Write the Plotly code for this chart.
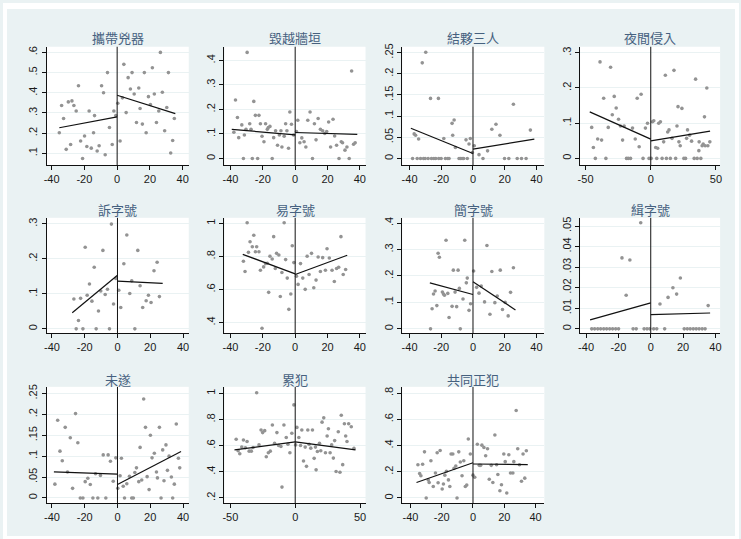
import plotly.graph_objects as go

# ---------------- data: running variable (x) vs. share (y) per sentencing factor ----------------
titles = ["攜帶兇器", "毀越牆垣", "結夥三人", "夜間侵入",
          "訴字號", "易字號", "簡字號", "緝字號",
          "未遂", "累犯", "共同正犯"]

weapon_x = [-35.3, -32.7, -33.9, -31.1, -29.8, -28.4, -27.6, -26.4, -25.0, -23.6, -22.3, -21.1, -19.9, -18.5,
            -17.1, -15.8, -14.4, -13.8, -12.2, -11.0, -9.5, -8.3, -7.3, -5.9, -4.7, -3.0, -2.0, -0.8,
            0.4, 1.8, 3.2, 4.1, 5.5, 6.7, 8.1, 9.1, 10.4, 11.8, 13.2, 14.0, 15.4, 16.6, 17.7, 19.1,
            20.3, 21.5, 22.7, 24.0, 25.4, 26.4, 27.6, 29.0, 30.3, 31.3, 32.7, 33.9, 34.9]
weapon_y = [0.202, 0.273, 0.337, 0.12, 0.355, 0.144, 0.36, 0.337, 0.31, 0.435, 0.161, 0.075, 0.186, 0.134,
            0.31, 0.126, 0.202, 0.287, 0.112, 0.138, 0.435, 0.40, 0.093, 0.50, 0.228, 0.144, 0.31, 0.287,
            0.348, 0.161, 0.375, 0.541, 0.302, 0.475, 0.419, 0.50, 0.394, 0.253, 0.424, 0.322, 0.245, 0.50,
            0.202, 0.381, 0.342, 0.524, 0.394, 0.253, 0.31, 0.60, 0.403, 0.212, 0.327, 0.50, 0.102, 0.164, 0.273]
weapon_fit_left_x, weapon_fit_left_y = [-35.3, 0.0], [0.227, 0.281]
weapon_fit_right_x, weapon_fit_right_y = [0.0, 35.5], [0.388, 0.297]

wall_x = [-37.9, -36.9, -35.7, -34.9, -33.0, -32.0, -31.4, -30.4, -29.7, -28.1, -27.3, -26.5, -25.6, -24.6,
          -23.2, -22.4, -21.5, -20.5, -19.3, -18.3, -17.2, -16.6, -15.6, -14.2, -13.3, -12.1, -10.9, -9.8,
          -8.8, -8.2, -6.8, -5.9, -5.1, -4.1, -3.3, -2.3, -1.0,
          0.8, 1.6, 2.9, 4.1, 5.5, 6.6, 7.8, 9.2, 10.7, 11.9, 12.9, 14.2, 15.6, 17.0, 18.3, 19.5, 20.7,
          21.9, 23.4, 24.4, 25.6, 27.1, 28.5, 29.3, 30.8, 32.0, 33.4, 34.9, 36.1, 37.1]
wall_y = [0.107, 0.239, 0.167, 0.085, 0.137, 0.0, 0.096, 0.119, 0.433, 0.142, 0.119, 0.0, 0.233, 0.176,
          0.0, 0.176, 0.142, 0.091, 0.068, 0.142, 0.119, 0.126, 0.131, 0.0, 0.085, 0.113, 0.054, 0.096,
          0.113, 0.047, 0.091, 0.142, 0.113, 0.042, 0.19, 0.14, 0.096,
          0.11, 0.156, 0.064, 0.084, 0.068, 0.047, 0.156, 0.19, 0.0, 0.142, 0.076, 0.163, 0.119, 0.113,
          0.102, 0.11, 0.149, 0.047, 0.16, 0.092, 0.054, 0.0, 0.068, 0.064, 0.034, 0.047, 0.0, 0.357,
          0.058, 0.064]
wall_fit_left_x, wall_fit_left_y = [-39.2, 0.0], [0.119, 0.096]
wall_fit_right_x, wall_fit_right_y = [0.0, 38.4], [0.106, 0.098]

gang_x = [-38.1, -37.1, -36.2, -35.2, -34.3, -33.1, -32.0, -31.2, -30.2, -29.8, -28.3, -26.8, -26.2, -24.7,
          -23.5, -21.8, -21.6, -20.1, -18.4, -17.4, -15.9, -15.1, -13.2, -12.8, -11.9, -11.1, -8.8, -8.0,
          -6.9, -5.9, -4.4, -3.6, -2.5, -1.7, -0.4,
          0.8, 3.8, 6.3, 9.2, 11.9, 14.5, 17.0, 19.9, 22.6, 25.5, 27.9, 30.6, 33.5, 36.2]
gang_y = [0.0, 0.058, 0.055, 0.0, 0.046, 0.0, 0.226, 0.0, 0.0, 0.251, 0.0, 0.142, 0.0, 0.0,
          0.0, 0.142, 0.0, 0.0, 0.047, 0.0, 0.0, 0.0, 0.083, 0.055, 0.091, 0.026, 0.0, 0.0,
          0.0, 0.0, 0.044, 0.0, 0.034, 0.047, 0.014,
          0.030, 0.009, 0.0, 0.018, 0.069, 0.081, 0.055, 0.0, 0.0, 0.128, 0.0, 0.0, 0.0, 0.067]
gang_fit_left_x, gang_fit_left_y = [-39.2, 0.0], [0.0715, 0.0118]
gang_fit_right_x, gang_fit_right_y = [0.0, 38.7], [0.022, 0.0456]

night_x = [-45.3, -44.0, -42.5, -40.7, -38.9, -37.7, -36.1, -34.4, -32.6, -30.8, -29.5, -28.0, -26.5, -24.7,
           -23.2, -21.6, -20.4, -18.6, -17.3, -15.5, -14.0, -11.9, -10.4, -8.9, -7.4, -5.9, -4.1, -2.5, -1.3,
           0.3, 1.3, 2.3, 3.8, 4.6, 5.3, 6.1, 7.4, 8.7, 9.9, 11.2, 12.0, 13.0, 14.0, 15.0, 16.3, 17.8,
           19.1, 20.1, 20.9, 21.6, 22.6, 23.9, 25.4, 26.7, 27.5, 28.2, 29.8, 31.3, 33.3, 34.4, 35.6, 36.9,
           37.1, 38.4, 39.4, 40.2, 41.2, 41.7, 43.0, 43.8, 45.3]
night_y = [0.088, 0.031, 0.0, 0.055, 0.274, 0.052, 0.171, 0.0, 0.088, 0.259, 0.124, 0.176, 0.143, 0.111,
           0.092, 0.052, 0.092, 0.0, 0.0, 0.0, 0.086, 0.055, 0.171, 0.033, 0.182, 0.0, 0.086, 0.1, 0.0,
           0.0, 0.104, 0.107, 0.031, 0.0, 0.029, 0.1, 0.104, 0.0, 0.047, 0.236, 0.0, 0.075, 0.081, 0.0,
           0.057, 0.25, 0.0, 0.092, 0.147, 0.047, 0.036, 0.142, 0.0, 0.0, 0.057, 0.081, 0.066, 0.049, 0.0,
           0.225, 0.0, 0.022, 0.047, 0.0, 0.036, 0.041, 0.118, 0.036, 0.2, 0.036, 0.047]
night_fit_left_x, night_fit_left_y = [-46.8, 0.0], [0.132, 0.0547]
night_fit_right_x, night_fit_right_y = [0.0, 45.5], [0.050, 0.0774]

su_x = [-26.6, -25.2, -23.8, -22.5, -21.1, -19.7, -18.5, -17.1, -15.6, -14.2, -13.0, -11.6, -10.2, -8.9,
        -7.5, -6.1, -4.9, -3.7, -2.4, -1.0,
        0.8, 2.0, 3.9, 5.7, 7.5, 8.7, 10.6, 12.4, 13.8, 15.4, 17.5, 18.9, 20.5, 22.3, 24.2, 25.6]
su_y = [0.085, 0.0, 0.024, 0.087, 0.0, 0.233, 0.096, 0.128, 0.079, 0.176, 0.0, 0.051, 0.108, 0.224,
        0.098, 0.113, 0.0, 0.299, 0.071, 0.144,
        0.11, 0.061, 0.186, 0.268, 0.101, 0.137, 0.0, 0.224, 0.123, 0.061, 0.08, 0.096, 0.075, 0.166,
        0.19, 0.092]
su_fit_left_x, su_fit_left_y = [-27.6, 0.0], [0.046, 0.153]
su_fit_right_x, su_fit_right_y = [0.0, 27.6], [0.136, 0.130]

yi_x = [-32.0, -31.0, -29.7, -28.9, -27.9, -26.5, -25.6, -24.6, -23.8, -22.4, -21.5, -20.5, -19.5, -18.3,
        -17.2, -16.4, -15.6, -14.2, -13.3, -12.3, -11.5, -10.1, -9.2, -8.2, -6.8, -5.9, -4.9, -3.9, -2.7,
        -1.8, -0.8,
        0.8, 1.8, 3.3, 4.7, 6.2, 7.4, 8.6, 10.1, 11.5, 12.9, 14.2, 15.6, 17.0, 18.7, 19.7, 21.1, 22.8,
        24.2, 25.6, 26.9, 28.3, 29.7, 31.2]
yi_y = [0.771, 0.709, 1.004, 0.825, 0.889, 0.859, 0.928, 0.829, 0.859, 0.829, 0.717, 0.366, 0.737, 0.757,
        0.759, 0.583, 0.801, 0.785, 0.92, 0.727, 0.819, 0.809, 0.558, 0.703, 1.004, 0.781, 0.669, 0.48,
        0.573, 0.865, 0.763,
        0.681, 0.631, 0.757, 0.669, 0.601, 0.801, 0.691, 0.819, 0.611, 0.657, 0.797, 0.709, 0.793, 0.717,
        0.847, 0.791, 0.717, 0.649, 0.727, 0.735, 0.92, 0.691, 0.721]
yi_fit_left_x, yi_fit_left_y = [-32.4, 0.0], [0.813, 0.695]
yi_fit_right_x, yi_fit_right_y = [0.0, 32.2], [0.691, 0.807]

jian_x = [-26.8, -25.8, -24.9, -23.9, -22.8, -22.0, -21.2, -19.3, -18.6, -18.0, -17.0, -15.9, -15.1, -13.2,
          -12.4, -11.3, -10.3, -9.4, -8.6, -8.0, -6.3, -5.2, -4.2, -3.6, -2.5, -1.5,
          0.4, 2.3, 3.8, 5.2, 7.3, 8.8, 10.7, 11.9, 13.8, 15.3, 17.2, 18.6, 20.3, 22.2, 23.7, 25.5]
jian_y = [0.0, 0.076, 0.132, 0.143, 0.088, 0.286, 0.271, 0.139, 0.132, 0.127, 0.335, 0.134, 0.043, 0.085,
          0.222, 0.139, 0.084, 0.222, 0.153, 0.0, 0.113, 0.335, 0.174, 0.192, 0.07, 0.095,
          0.219, 0.157, 0.135, 0.162, 0.102, 0.315, 0.055, 0.217, 0.099, 0.124, 0.222, 0.073, 0.1, 0.049,
          0.138, 0.231]
jian_fit_left_x, jian_fit_left_y = [-27.2, 0.0], [0.174, 0.130]
jian_fit_right_x, jian_fit_right_y = [0.0, 26.8], [0.178, 0.0715]

ji_x = [-36.5, -34.7, -32.8, -31.0, -29.1, -27.3, -25.4, -23.6, -21.7, -19.9, -17.8, -15.2, -12.9, -10.9,
        -9.0, -6.2, -4.1, -2.3, -0.6,
        1.8, 3.7, 5.7, 8.6, 10.7, 13.7, 16.0, 18.3, 20.7, 22.6, 24.4, 26.3, 28.1, 29.9, 31.8, 33.6, 35.5]
ji_y = [0.0, 0.0, 0.0, 0.0, 0.0, 0.0, 0.0, 0.0, 0.0, 0.0, 0.0345, 0.0163, 0.0335, 0.0,
        0.0, 0.0516, 0.0, 0.0, 0.0,
        0.0, 0.0, 0.0121, 0.0, 0.0153, 0.020, 0.0169, 0.0247, 0.0, 0.0, 0.0, 0.0, 0.0, 0.0, 0.0, 0.0, 0.0113]
ji_fit_left_x, ji_fit_left_y = [-37.5, 0.0], [0.00435, 0.0126]
ji_fit_right_x, ji_fit_right_y = [0.0, 36.7], [0.0069, 0.0077]

attempt_x = [-38.2, -36.5, -35.1, -33.7, -31.9, -30.5, -28.8, -27.4, -25.6, -24.2, -22.7, -21.1, -19.7, -18.1,
             -16.6, -15.0, -13.4, -12.0, -10.4, -8.7, -7.1, -5.7, -4.3, -2.6, -1.0,
             0.2, 1.6, 2.4, 3.5, 4.3, 5.7, 7.3, 8.7, 9.7, 10.6, 11.6, 13.0, 13.8, 14.8, 16.0, 17.1, 18.1,
             19.3, 20.1, 21.1, 22.5, 23.8, 24.4, 25.6, 26.6, 27.6, 28.4, 29.6, 30.5, 31.5, 32.9, 33.7,
             34.7, 35.9, 37.2, 38.0]
attempt_y = [0.033, 0.186, 0.112, 0.089, 0.169, 0.062, 0.144, 0.023, 0.202, 0.132, 0.0, 0.0, 0.039, 0.047,
             0.032, 0.0, 0.058, 0.0, 0.054, 0.103, 0.0, 0.103, 0.088, 0.04, 0.096,
             0.023, 0.053, 0.095, 0.028, 0.0, 0.034, 0.052, 0.0, 0.0, 0.061, 0.072, 0.039, 0.121, 0.043,
             0.237, 0.169, 0.051, 0.02, 0.15, 0.096, 0.107, 0.062, 0.048, 0.169, 0.0, 0.115, 0.041, 0.127,
             0.066, 0.1, 0.05, 0.0, 0.033, 0.177, 0.095, 0.072]
attempt_fit_left_x, attempt_fit_left_y = [-38.8, 0.0], [0.0623, 0.0568]
attempt_fit_right_x, attempt_fit_right_y = [0.0, 38.8], [0.0323, 0.111]

repeat_x = [-45.5, -44.0, -42.7, -41.2, -39.9, -38.4, -37.1, -35.5, -33.8, -32.5, -29.7, -27.9, -26.3, -25.1,
            -23.5, -22.3, -20.7, -19.2, -17.6, -15.9, -14.1, -12.8, -11.0, -10.2, -8.7, -6.9, -5.6, -4.1,
            -2.6, -1.0,
            0.3, 1.3, 2.8, 4.1, 5.1, 6.4, 7.7, 8.7, 9.7, 10.7, 12.0, 13.3, 14.6, 15.6, 16.1, 17.1, 18.7,
            19.7, 20.7, 22.0, 23.3, 24.6, 25.6, 26.9, 28.1, 29.4, 30.4, 31.5, 33.2, 34.5, 35.5, 36.6, 37.9,
            38.9, 39.9, 41.2, 43.2, 45.3]
repeat_y = [0.649, 0.561, 0.538, 0.589, 0.644, 0.584, 0.632, 0.558, 0.558, 0.586, 1.005, 0.606, 0.72, 0.70,
            0.715, 0.515, 0.546, 0.558, 0.758, 0.619, 0.70, 0.601, 0.594, 0.283, 0.758, 0.662, 0.611, 0.546,
            0.695, 0.912,
            0.606, 0.74, 0.662, 0.601, 0.72, 0.483, 0.589, 0.442, 0.72, 0.611, 0.581, 0.72, 0.503, 0.589,
            0.415, 0.556, 0.619, 0.561, 0.78, 0.813, 0.546, 0.674, 0.73, 0.546, 0.606, 0.505, 0.639, 0.402,
            0.707, 0.397, 0.833, 0.455, 0.768, 0.674, 0.632, 0.768, 0.745, 0.579]
repeat_fit_left_x, repeat_fit_left_y = [-46.8, 0.0], [0.568, 0.629]
repeat_fit_right_x, repeat_fit_right_y = [0.0, 46.5], [0.629, 0.568]

joint_x = [-35.2, -34.1, -33.3, -32.2, -31.0, -29.9, -28.6, -28.0, -26.9, -25.4, -24.0, -22.9, -22.3, -21.0,
           -19.7, -18.9, -18.0, -17.0, -15.7, -14.8, -14.0, -12.9, -12.1, -11.0, -10.2, -9.1, -8.1, -7.0,
           -5.9, -4.9, -4.0, -3.0, -1.7,
           0.0, 1.1, 2.8, 4.0, 4.9, 5.7, 7.0, 8.1, 9.3, 10.4, 11.7, 12.7, 14.0, 15.1, 15.9, 17.2, 18.2,
           19.7, 20.6, 21.6, 22.9, 24.0, 25.5, 26.1, 27.6, 28.6, 29.7, 31.0, 32.0, 33.1, 34.1]
joint_y = [0.254, 0.186, 0.169, 0.257, 0.352, 0.0, 0.138, 0.118, 0.284, 0.088, 0.191, 0.345, 0.116, 0.362,
           0.068, 0.106, 0.174, 0.204, 0.138, 0.088, 0.335, 0.335, 0.226, 0.244, 0.0, 0.352, 0.274, 0.169,
           0.284, 0.088, 0.098, 0.45, 0.335,
           0.174, 0.158, 0.41, 0.249, 0.249, 0.403, 0.385, 0.322, 0.375, 0.143, 0.249, 0.118, 0.48, 0.254,
           0.179, 0.055, 0.101, 0.335, 0.277, 0.038, 0.33, 0.191, 0.191, 0.277, 0.667, 0.375, 0.254, 0.128,
           0.335, 0.151, 0.36]
joint_fit_left_x, joint_fit_left_y = [-36.1, 0.0], [0.118, 0.269]
joint_fit_right_x, joint_fit_right_y = [0.0, 35.0], [0.259, 0.254]

# axis ticks
ticks_x40 = [-40, -20, 0, 20, 40]
ticks_x50 = [-50, 0, 50]
yticks = [
    ([0.1, 0.2, 0.3, 0.4, 0.5, 0.6], [".1", ".2", ".3", ".4", ".5", ".6"]),
    ([0, 0.1, 0.2, 0.3, 0.4], ["0", ".1", ".2", ".3", ".4"]),
    ([0, 0.05, 0.1, 0.15, 0.2, 0.25], ["0", ".05", ".1", ".15", ".2", ".25"]),
    ([0, 0.1, 0.2, 0.3], ["0", ".1", ".2", ".3"]),
    ([0, 0.1, 0.2, 0.3], ["0", ".1", ".2", ".3"]),
    ([0.4, 0.6, 0.8, 1.0], [".4", ".6", ".8", "1"]),
    ([0, 0.1, 0.2, 0.3, 0.4], ["0", ".1", ".2", ".3", ".4"]),
    ([0, 0.01, 0.02, 0.03, 0.04, 0.05], ["0", ".01", ".02", ".03", ".04", ".05"]),
    ([0, 0.05, 0.1, 0.15, 0.2, 0.25], ["0", ".05", ".1", ".15", ".2", ".25"]),
    ([0.2, 0.4, 0.6, 0.8, 1.0], [".2", ".4", ".6", ".8", "1"]),
    ([0, 0.2, 0.4, 0.6, 0.8], ["0", ".2", ".4", ".6", ".8"]),
]
xticks = [ticks_x40, ticks_x40, ticks_x40, ticks_x50,
          ticks_x40, ticks_x40, ticks_x40, ticks_x40,
          ticks_x40, ticks_x50, ticks_x40]
xranges = [[-43, 43.7], [-43.7, 43.5], [-44.6, 45], [-54.2, 53.2],
           [-43.2, 43.5], [-43.7, 43.5], [-44.6, 45], [-43.7, 42.9],
           [-43.2, 43.5], [-54.5, 54.2], [-45.2, 45.6]]
yranges = [[0.042, 0.628], [-0.027, 0.456], [-0.0157, 0.264], [-0.019, 0.317],
           [-0.0123, 0.317], [0.336, 1.034], [-0.0163, 0.42], [-0.0021, 0.054],
           [-0.0126, 0.266], [0.16, 1.05], [-0.04, 0.848]]

series = [
    (weapon_x, weapon_y, weapon_fit_left_x, weapon_fit_left_y, weapon_fit_right_x, weapon_fit_right_y),
    (wall_x, wall_y, wall_fit_left_x, wall_fit_left_y, wall_fit_right_x, wall_fit_right_y),
    (gang_x, gang_y, gang_fit_left_x, gang_fit_left_y, gang_fit_right_x, gang_fit_right_y),
    (night_x, night_y, night_fit_left_x, night_fit_left_y, night_fit_right_x, night_fit_right_y),
    (su_x, su_y, su_fit_left_x, su_fit_left_y, su_fit_right_x, su_fit_right_y),
    (yi_x, yi_y, yi_fit_left_x, yi_fit_left_y, yi_fit_right_x, yi_fit_right_y),
    (jian_x, jian_y, jian_fit_left_x, jian_fit_left_y, jian_fit_right_x, jian_fit_right_y),
    (ji_x, ji_y, ji_fit_left_x, ji_fit_left_y, ji_fit_right_x, ji_fit_right_y),
    (attempt_x, attempt_y, attempt_fit_left_x, attempt_fit_left_y, attempt_fit_right_x, attempt_fit_right_y),
    (repeat_x, repeat_y, repeat_fit_left_x, repeat_fit_left_y, repeat_fit_right_x, repeat_fit_right_y),
    (joint_x, joint_y, joint_fit_left_x, joint_fit_left_y, joint_fit_right_x, joint_fit_right_y),
]

# ---------------- layout geometry (pixels) ----------------
W, H = 741, 539
col_px = [(44, 187), (223, 365), (402, 545), (581, 722)]
row_px = [(44, 163), (216, 332), (386, 503)]
title_y_px = [35, 208, 379]

BG = "#eaf2f3"
TITLE_COLOR = "#46617f"
TICK_FONT = dict(family="Liberation Sans, Arial, sans-serif", size=11, color="#1a1a1a")

fig = go.Figure()
layout = {}
shapes = []
annotations = []

for i, (title, (sx, sy, lx, ly, rx, ry)) in enumerate(zip(titles, series)):
    r, c = divmod(i, 4)
    n = i + 1
    xa = "x" if n == 1 else f"x{n}"
    ya = "y" if n == 1 else f"y{n}"
    xkey = "xaxis" if n == 1 else f"xaxis{n}"
    ykey = "yaxis" if n == 1 else f"yaxis{n}"
    (x0, x1), (yt, yb) = col_px[c], row_px[r]

    fig.add_trace(go.Scatter(x=sx, y=sy, mode="markers", xaxis=xa, yaxis=ya,
                             marker=dict(size=3.6, color="#939393"), showlegend=False,
                             hoverinfo="x+y"))
    for fx, fy in ((lx, ly), (rx, ry)):
        fig.add_trace(go.Scatter(x=fx, y=fy, mode="lines", xaxis=xa, yaxis=ya,
                                 line=dict(color="#111111", width=1.2), showlegend=False))

    layout[xkey] = dict(domain=[x0 / W, x1 / W], anchor=ya, range=xranges[i],
                        tickvals=xticks[i], ticktext=[str(v) for v in xticks[i]],
                        showline=True, linecolor="#111111", linewidth=1, mirror=False,
                        ticks="outside", ticklen=4, tickcolor="#111111", tickwidth=1,
                        showgrid=False, zeroline=False, tickfont=TICK_FONT, fixedrange=True)
    layout[ykey] = dict(domain=[1 - yb / H, 1 - yt / H], anchor=xa, range=yranges[i],
                        tickvals=yticks[i][0], ticktext=yticks[i][1], tickangle=-90,
                        showline=True, linecolor="#111111", linewidth=1,
                        ticks="outside", ticklen=4, tickcolor="#111111", tickwidth=1,
                        showgrid=True, gridcolor=BG, gridwidth=1,
                        zeroline=False, tickfont=TICK_FONT, fixedrange=True)

    # cutoff at zero
    shapes.append(dict(type="line", xref=xa, yref=f"{ya} domain", x0=0, x1=0, y0=0, y1=1,
                       line=dict(color="#111111", width=1), layer="above"))

    annotations.append(dict(text=title, xref="paper", yref="paper",
                            x=(x0 + x1) / 2 / W, y=1 - title_y_px[r] / H,
                            xanchor="center", yanchor="middle", showarrow=False,
                            font=dict(family="Noto Sans CJK TC, Noto Sans CJK SC, sans-serif",
                                      size=13, color=TITLE_COLOR)))

# thin white frame around the graph region
for bx0, by0, bx1, by1 in [(0, 0, 4, H), (737, 0, W, H), (0, 0, W, 6), (0, 536, W, H)]:
    shapes.append(dict(type="rect", xref="paper", yref="paper",
                       x0=bx0 / W, x1=bx1 / W, y0=1 - by1 / H, y1=1 - by0 / H,
                       fillcolor="white", line=dict(width=0), layer="above"))

fig.update_layout(width=W, height=H, margin=dict(l=0, r=0, t=0, b=0),
                  paper_bgcolor=BG, plot_bgcolor="white",
                  shapes=shapes, annotations=annotations, showlegend=False, **layout)

fig.write_html("out.html")
